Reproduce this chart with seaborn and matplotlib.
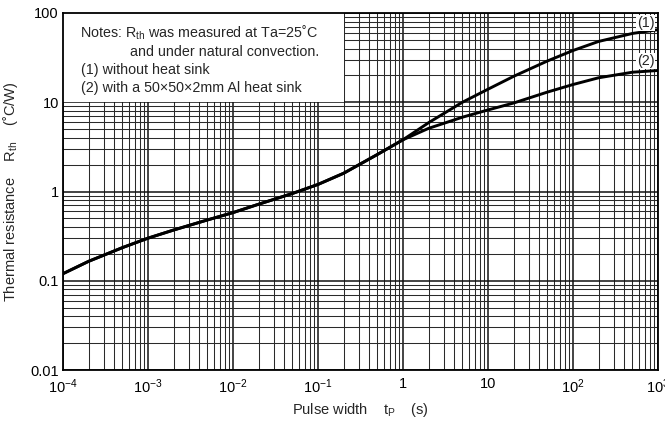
import numpy as np
import pandas as pd
import matplotlib
matplotlib.use("Agg")
import matplotlib.pyplot as plt
from matplotlib.ticker import LogLocator, FixedLocator, FixedFormatter, NullFormatter
from matplotlib.patches import Rectangle
import seaborn as sns

# pulse width (s) and thermal resistance
pulse_width = [1e-4, 2e-4, 5e-4, 1e-3, 2e-3, 5e-3, 1e-2, 2e-2, 5e-2, 0.1, 0.2, 0.5, 1,
               2, 5, 10, 20, 50, 100, 200, 500, 1000]
rth_no_sink = [0.12, 0.165, 0.235, 0.30, 0.37, 0.48, 0.58, 0.72, 0.95, 1.2, 1.6, 2.6, 3.8,
               5.9, 10.0, 14.0, 19.5, 29.0, 38.0, 48.0, 59.0, 65.0]
rth_heat_sink = [0.12, 0.165, 0.235, 0.30, 0.37, 0.48, 0.58, 0.72, 0.95, 1.2, 1.6, 2.6, 3.8,
                 5.1, 6.8, 8.2, 9.8, 13.0, 15.8, 18.8, 21.7, 22.7]

x_ticks = [1e-4, 1e-3, 1e-2, 1e-1, 1, 10, 1e2, 1e3]
x_tick_labels = ["$10^{-4}$", "$10^{-3}$", "$10^{-2}$", "$10^{-1}$", "1", "10", "$10^{2}$", "$10^{3}$"]
y_ticks = [0.01, 0.1, 1, 10, 100]
y_tick_labels = ["0.01", "0.1", "1", "10", "100"]

df1 = pd.DataFrame({"t": pulse_width, "rth": rth_no_sink})
df2 = pd.DataFrame({"t": pulse_width, "rth": rth_heat_sink})

sns.set_style("white")
plt.rcParams["font.family"] = ["Liberation Sans", "DejaVu Sans"]
plt.rcParams["mathtext.fontset"] = "custom"
plt.rcParams["mathtext.rm"] = "Liberation Sans"
plt.rcParams["mathtext.it"] = "Liberation Sans:italic"
plt.rcParams["mathtext.bf"] = "Liberation Sans:bold"

fig = plt.figure(figsize=(6.65, 4.24), dpi=100)
ax = fig.add_axes([63 / 665, 54 / 424, 595 / 665, 357 / 424])

sns.lineplot(data=df1, x="t", y="rth", color="black", lw=2.1, ax=ax, zorder=4)
sns.lineplot(data=df2, x="t", y="rth", color="black", lw=2.1, ax=ax, zorder=4)

ax.set_xscale("log")
ax.set_yscale("log")
ax.set_xlim(1e-4, 1e3)
ax.set_ylim(0.01, 100)

# dense chart-paper grid
ax.xaxis.set_major_locator(FixedLocator(x_ticks))
ax.xaxis.set_major_formatter(FixedFormatter(x_tick_labels))
ax.yaxis.set_major_locator(FixedLocator(y_ticks))
ax.yaxis.set_major_formatter(FixedFormatter(y_tick_labels))
ax.xaxis.set_minor_locator(LogLocator(base=10, subs=np.arange(2, 10), numticks=20))
ax.yaxis.set_minor_locator(LogLocator(base=10, subs=np.arange(2, 10), numticks=20))
ax.xaxis.set_minor_formatter(NullFormatter())
ax.yaxis.set_minor_formatter(NullFormatter())
ax.grid(which="major", color="#111111", lw=1.1)
ax.grid(which="minor", color="#2a2a2a", lw=0.75)
ax.set_axisbelow(True)
ax.tick_params(which="both", length=0, labelsize=10.5, colors="black")
ax.tick_params(axis="x", pad=5)
ax.tick_params(axis="y", pad=3)

for s in ax.spines.values():
    s.set_color("black")
    s.set_linewidth(1.3)

# white panel for the notes
ax.add_patch(Rectangle((1e-4, 10), 0.2 - 1e-4, 90, facecolor="white", edgecolor="none", zorder=2))

fs = 10.3
ax.text(0.028, 0.944, "Notes: R$_{\\rm th}$ was measured at Ta=25˚C", transform=ax.transAxes,
        fontsize=fs, va="center", zorder=5)
ax.text(0.113, 0.891, "and under natural convection.", transform=ax.transAxes,
        fontsize=fs, va="center", zorder=5)
ax.text(0.031, 0.840, "(1) without heat sink", transform=ax.transAxes,
        fontsize=fs, va="center", zorder=5)
ax.text(0.031, 0.790, "(2) with a 50×50×2mm Al heat sink", transform=ax.transAxes,
        fontsize=fs, va="center", zorder=5)

# curve labels
ax.text(0.994, 0.972, "(1)", transform=ax.transAxes, fontsize=fs, ha="right", va="center", zorder=5,
        bbox=dict(facecolor="white", edgecolor="none", pad=0.5))
ax.text(0.994, 0.866, "(2)", transform=ax.transAxes, fontsize=fs, ha="right", va="center", zorder=5,
        bbox=dict(facecolor="white", edgecolor="none", pad=0.5))

ax.set_xlabel("Pulse width    t$_{\\rm P}$    (s)", fontsize=10.5, labelpad=4)
ax.set_ylabel("Thermal resistance    R$_{\\rm th}$    (˚C/W)", fontsize=10.5, labelpad=7)

fig.savefig("out.png", dpi=100)
